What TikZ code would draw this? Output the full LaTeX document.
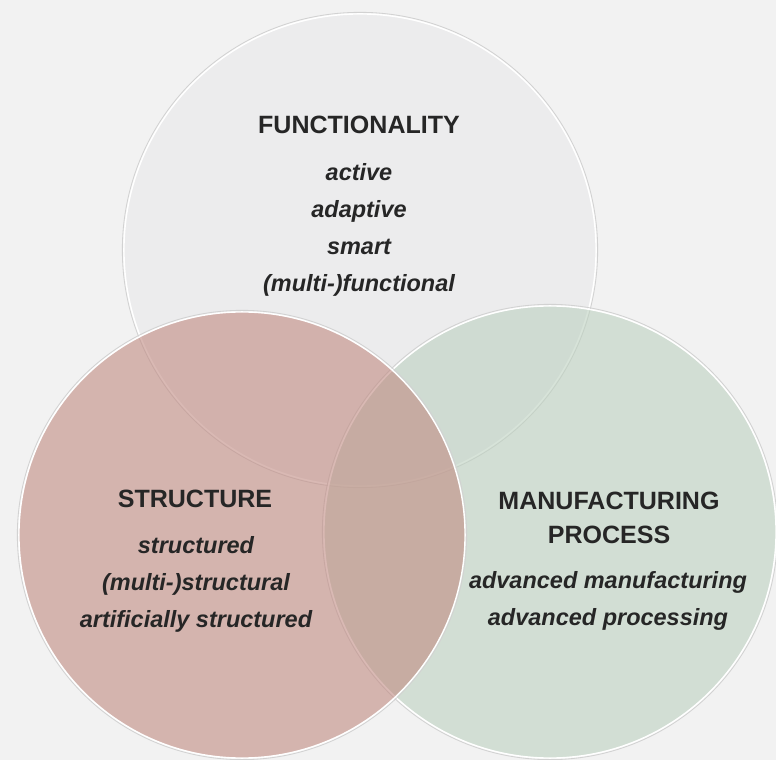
\documentclass[tikz,border=0pt]{standalone}
\usepackage{fontspec}
\setmainfont{Liberation Sans}
\usepackage{xcolor}
\usepackage{tikz}

\begin{document}
\begin{tikzpicture}[x=0.025cm, y=-0.025cm]
    % Colors
    \definecolor{backcolor}{RGB}{242,242,242}
    \definecolor{funccolor}{RGB}{236,236,237}
    \definecolor{structcolor}{RGB}{193,139,130}
    \definecolor{processcolor}{RGB}{189,209,192}

    % Styles
    \tikzset{
        halo/.style={draw=gray!35, line width=0.6pt},
        ring/.style={draw=white, line width=1pt},
        title/.style={font=\fontsize{17.8}{24.2}\selectfont\bfseries, align=center, text=black!85},
        items/.style={font=\fontsize{16.7}{26.3}\selectfont\bfseries\itshape, align=center, text=black!85}
    }

    % Dimensions
    \def\rfunc{5.9cm}
    \def\rstruct{5.575cm}
    \def\rprocess{5.65cm}

    % Background
    \fill[backcolor] (0,0) rectangle (776,760);
    \useasboundingbox (0,0) rectangle (776,760);

    % Circles (top, right, left)
    \draw[halo] (360,250) circle (\rfunc+0.04cm);
    \filldraw[ring, fill=funccolor] (360,250) circle (\rfunc);
    \draw[halo] (550,532) circle (\rprocess+0.04cm);
    \filldraw[ring, fill=processcolor, fill opacity=0.6] (550,532) circle (\rprocess);
    \draw[halo] (242,535) circle (\rstruct+0.04cm);
    \filldraw[ring, fill=structcolor, fill opacity=0.6] (242,535) circle (\rstruct);

    % Functionality
    \node[title] (functitle) at (359,125) {FUNCTIONALITY};
    \node[items] (funclist) at (359,229.5) {active\\adaptive\\smart\\(multi-)functional};

    % Structure
    \node[title] (structtitle) at (195,499) {STRUCTURE};
    \node[items] (structlist) at (196,584) {structured\\(multi-)structural\\artificially structured};

    % Manufacturing process
    \node[title] (processtitle) at (609,518) {MANUFACTURING\\PROCESS};
    \node[items] (processlist) at (608,601) {advanced manufacturing\\advanced processing};
\end{tikzpicture}
\end{document}
